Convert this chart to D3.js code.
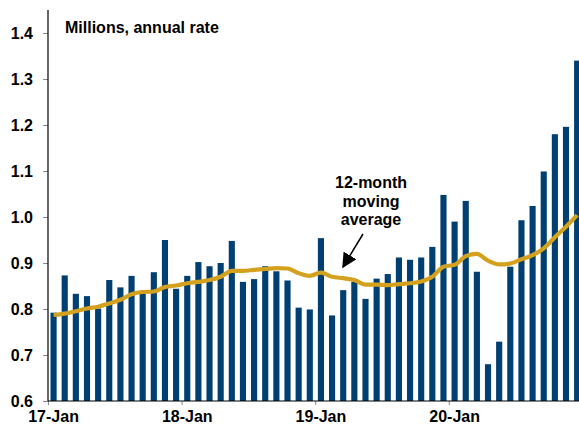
<!DOCTYPE html>
<html>
<head>
<meta charset="utf-8">
<script src="https://cdn.jsdelivr.net/npm/d3@7"></script>
<style>
  body { margin: 0; background: #fff; }
  text { font-family: "Liberation Sans", Arial, sans-serif; font-weight: bold; }
</style>
</head>
<body>
<div id="chart"></div>
<script>
// monthly housing starts, Jan 2017 - Dec 2020
const months = d3.range(48).map(i => new Date(2017, i, 1));

const starts = [
  0.792, 0.873, 0.833, 0.828, 0.801, 0.863, 0.847, 0.872, 0.834, 0.880, 0.950, 0.844,
  0.872, 0.902, 0.893, 0.900, 0.948, 0.859, 0.865, 0.893, 0.882, 0.862, 0.803, 0.799,
  0.954, 0.786, 0.841, 0.859, 0.822, 0.866, 0.876, 0.912, 0.907, 0.912, 0.935, 1.048,
  0.990, 1.035, 0.881, 0.680, 0.729, 0.892, 0.993, 1.024, 1.099, 1.180, 1.196, 1.340
];

const movingAvg = [
  0.787, 0.790, 0.795, 0.801, 0.805, 0.812, 0.820, 0.832, 0.837, 0.838, 0.848, 0.851,
  0.856, 0.859, 0.863, 0.870, 0.883, 0.883, 0.885, 0.887, 0.889, 0.888, 0.878, 0.872,
  0.879, 0.870, 0.867, 0.863, 0.853, 0.853, 0.852, 0.854, 0.856, 0.860, 0.870, 0.892,
  0.896, 0.915, 0.920, 0.905, 0.897, 0.899, 0.908, 0.917, 0.932, 0.956, 0.979, 1.004
];

const yTicks = [0.6, 0.7, 0.8, 0.9, 1.0, 1.1, 1.2, 1.3, 1.4];
const yearStarts = [2017, 2018, 2019, 2020, 2021].map(y => new Date(y, 0, 1));
const title = 'Millions, annual rate';
const noteLines = ['12-month', 'moving', 'average'];

const W = 579, H = 428;
const plotLeft = 48, plotBottom = 401, plotTop = 10;
const monthStep = 11.14;
const fontSize = 16;

const svg = d3.select('#chart')
  .append('svg')
  .attr('width', W)
  .attr('height', H);

const x = d3.scaleBand()
  .domain(months)
  .range([plotLeft, plotLeft + months.length * monthStep])
  .padding(0);

const xTime = d3.scaleTime()
  .domain([yearStarts[0], yearStarts[yearStarts.length - 1]])
  .range([plotLeft, plotLeft + months.length * monthStep]);

const y = d3.scaleLinear()
  .domain([0.6, 1.45])
  .range([plotBottom, plotTop]);

const barW = x.bandwidth() * 0.55;

// bars
svg.selectAll('.bar')
  .data(months)
  .enter()
  .append('rect')
  .attr('class', 'bar')
  .attr('x', d => x(d) + (x.bandwidth() - barW) / 2)
  .attr('y', (d, i) => y(starts[i]))
  .attr('width', barW)
  .attr('height', (d, i) => plotBottom - y(starts[i]))
  .attr('fill', '#003f72');

// moving average line
const line = d3.line()
  .x(d => x(d) + x.bandwidth() / 2)
  .y((d, i) => y(movingAvg[i]))
  .curve(d3.curveMonotoneX);

svg.append('path')
  .datum(months)
  .attr('d', line)
  .attr('fill', 'none')
  .attr('stroke', '#d4a11e')
  .attr('stroke-width', 4.2)
  .attr('stroke-linejoin', 'round');

// y axis
const yAxis = svg.append('g')
  .attr('transform', `translate(${plotLeft},0)`)
  .call(d3.axisLeft(y).tickValues(yTicks).tickFormat(d3.format('.1f')).tickSize(5).tickPadding(10));
yAxis.select('.domain').remove();
yAxis.selectAll('.tick line').attr('stroke', '#888');
yAxis.selectAll('.tick text').attr('font-size', fontSize).attr('fill', '#000');
svg.append('line')
  .attr('x1', plotLeft).attr('x2', plotLeft)
  .attr('y1', plotTop).attr('y2', plotBottom)
  .attr('stroke', '#000').attr('stroke-width', 1.2);

// x axis: tick marks at year starts
const xTicks = svg.append('g')
  .attr('transform', `translate(0,${plotBottom})`)
  .call(d3.axisBottom(xTime).tickValues(yearStarts).tickFormat('').tickSize(4));
xTicks.select('.domain').remove();
xTicks.selectAll('.tick line').attr('stroke', '#888');

// x labels centred on January bars
const xLabels = svg.append('g')
  .attr('transform', `translate(0,${plotBottom})`)
  .call(d3.axisBottom(x)
    .tickValues(months.filter(d => d.getMonth() === 0))
    .tickFormat(d => `${String(d.getFullYear()).slice(2)}-Jan`)
    .tickSize(0).tickPadding(10));
xLabels.select('.domain').remove();
xLabels.selectAll('.tick text').attr('font-size', fontSize).attr('fill', '#000');

svg.append('line')
  .attr('x1', plotLeft).attr('x2', W)
  .attr('y1', plotBottom).attr('y2', plotBottom)
  .attr('stroke', '#000').attr('stroke-width', 1.2);

// title
svg.append('text')
  .attr('x', 65)
  .attr('y', 33)
  .attr('font-size', fontSize)
  .text(title);

// annotation
svg.append('text')
  .attr('x', 371)
  .attr('y', 188)
  .attr('text-anchor', 'middle')
  .attr('font-size', fontSize)
  .selectAll('tspan')
  .data(noteLines)
  .enter()
  .append('tspan')
  .attr('x', 371)
  .attr('dy', (d, i) => i === 0 ? 0 : 18.5)
  .text(d => d);

svg.append('defs').append('marker')
  .attr('id', 'arrow')
  .attr('viewBox', '0 0 10 10')
  .attr('refX', 9).attr('refY', 5)
  .attr('markerWidth', 15).attr('markerHeight', 15)
  .attr('markerUnits', 'userSpaceOnUse')
  .attr('orient', 'auto')
  .append('path')
  .attr('d', 'M0,0 L10,5 L0,10 Z')
  .attr('fill', '#000');

svg.append('line')
  .attr('x1', 363).attr('y1', 234)
  .attr('x2', 343).attr('y2', 267)
  .attr('stroke', '#000')
  .attr('stroke-width', 1.5)
  .attr('marker-end', 'url(#arrow)');
</script>
</body>
</html>
